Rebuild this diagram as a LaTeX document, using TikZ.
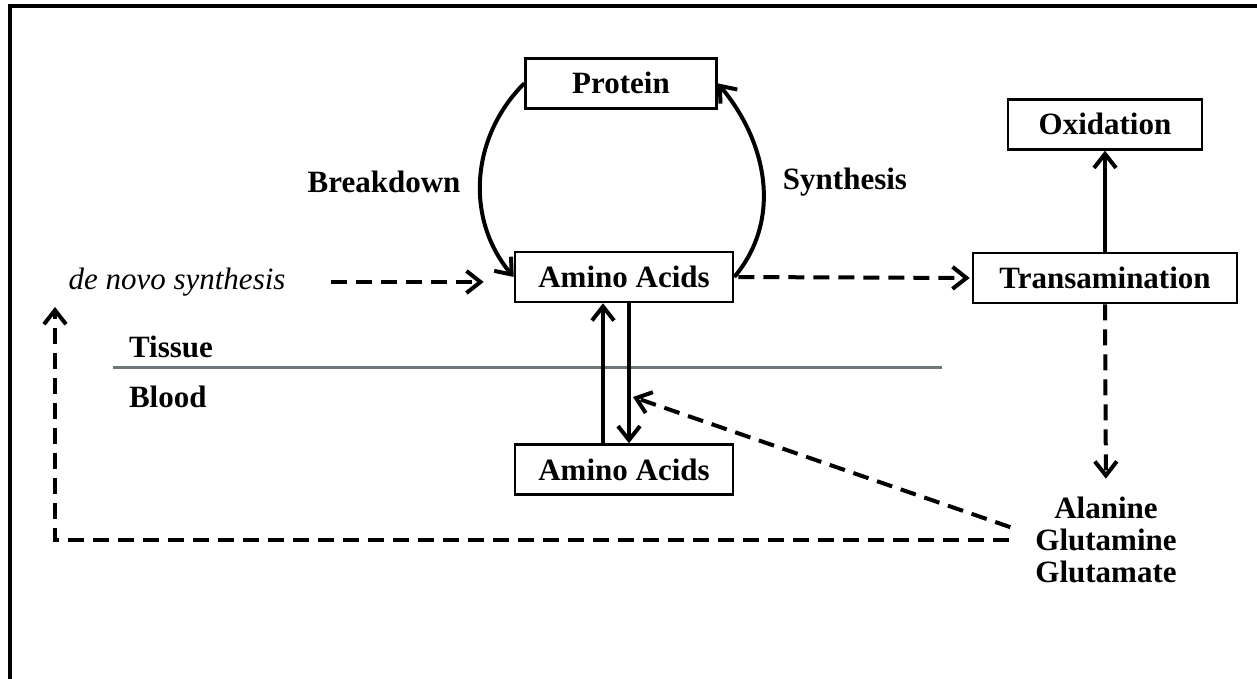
\documentclass[tikz,border=0pt]{standalone}
\usepackage{fontspec}
\setmainfont{Liberation Serif}
\usetikzlibrary{arrows.meta,positioning}
\definecolor{membrane}{RGB}{110,118,122}

\begin{document}
\begin{tikzpicture}[
  x=0.5pt,y=0.5pt,
  font=\fontsize{15.5}{16}\selectfont\bfseries,
  pool/.style={rectangle,draw,line width=1.3pt,align=center,minimum height=25pt,inner sep=3pt},
  arrow/.style={-{Straight Barb[length=7pt,width=11pt]},line width=2pt},
  flux/.style={arrow,dash pattern=on 8pt off 4.5pt},
]
\useasboundingbox (0,0) rectangle (1257,679);
\draw[line width=1.6pt] (10,0) |- (1257,673);

\node[pool,minimum width=109pt] (tissueaa) at (624,402) {Amino Acids};
\node[pool,minimum width=95.5pt,above=70.5pt of tissueaa,xshift=-1.5pt] (protein) {Protein};
\node[pool,minimum width=109pt,below=70pt of tissueaa] (bloodaa) {Amino Acids};
\node[pool,minimum width=132pt] (transam) at (1105,401) {Transamination};
\node[pool,minimum width=97pt,above=50.5pt of transam] (oxid) {Oxidation};
\node[align=center,inner sep=1pt] (carriers) at (1106,139) {Alanine\\Glutamine\\Glutamate};
\node[font=\fontsize{15.5}{16}\selectfont\itshape] (denovo) at (177,397) {de novo synthesis};
\node (breakdown) at (384,497) {Breakdown};
\node (synthesis) at (845,497) {Synthesis};
\node[anchor=west] (tissue) at (122,332) {Tissue};
\node[anchor=west] (blood) at (122,282) {Blood};
\coordinate (uptake) at (633,282);
\coordinate (recycle) at (55,372);

% tissue / blood boundary
\draw[membrane,line width=1.5pt] (113,311) -- (942,311);

\draw[arrow] (protein.west) to[out=225,in=130] (tissueaa.west);
\draw[arrow] (tissueaa.east) to[out=50,in=-50] (protein.east);
\draw[flux,shorten <=19pt,shorten >=15pt] (denovo.east) -- (tissueaa.west |- denovo.east);
\draw[flux,shorten <=2pt,shorten >=1pt] (tissueaa.east) -- (transam.west);
\draw[arrow] (transam.north) -- (oxid.south);
\draw[flux,shorten >=8pt] (transam.south) -- (carriers.north);
\draw[arrow] ([xshift=-10.5pt]bloodaa.north) -- ([xshift=-10.5pt]tissueaa.south);
\draw[arrow] ([xshift=2.5pt]tissueaa.south) -- ([xshift=2.5pt]bloodaa.north);
\draw[flux,shorten <=12pt] ([yshift=2.5pt]carriers.west) -- (uptake);
\draw[flux,shorten <=12pt] (carriers.west) -| (recycle);
\end{tikzpicture}
\end{document}
